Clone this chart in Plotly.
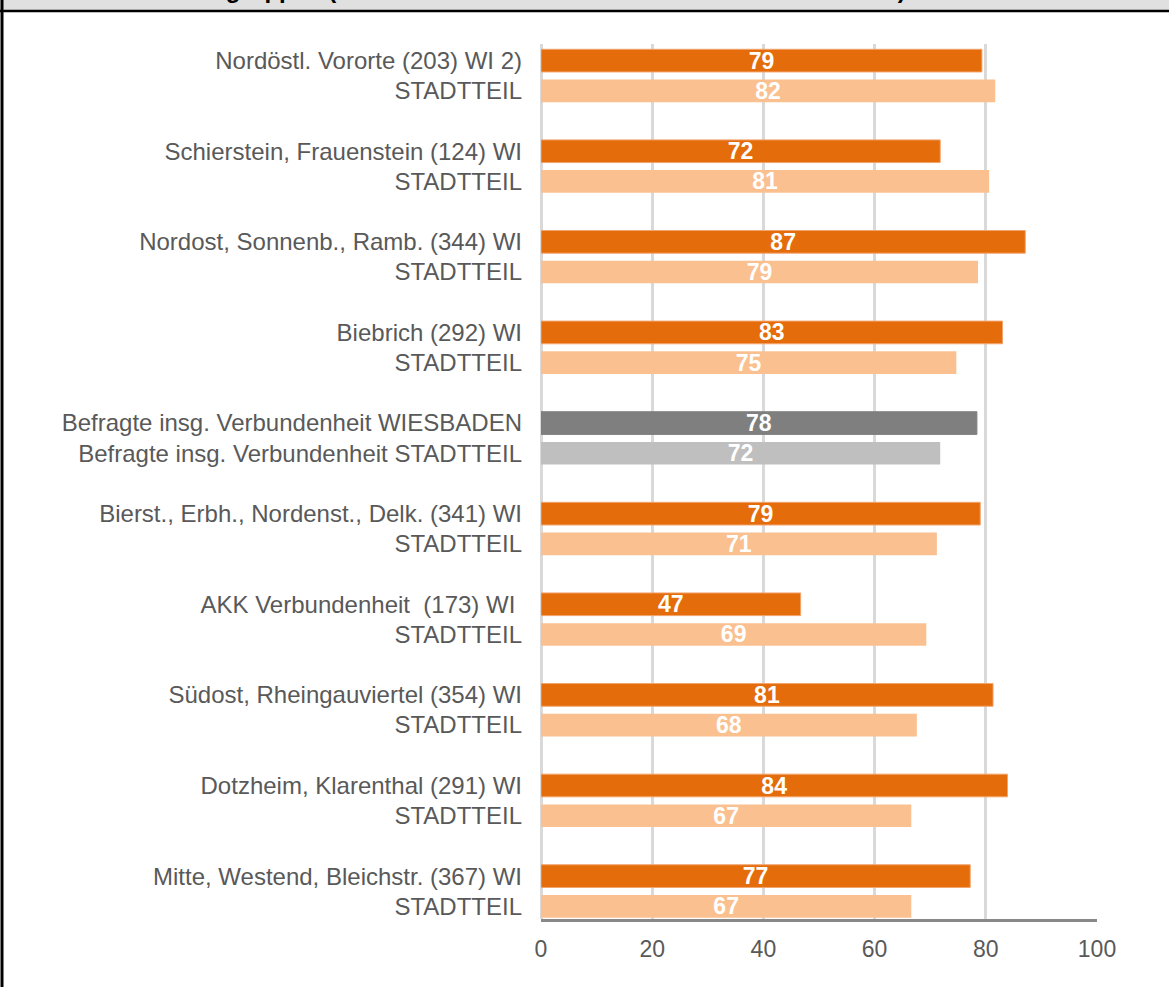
import plotly.graph_objects as go

# ---------------- data ----------------
labels_wi = [
    "Nordöstl. Vororte (203) WI 2)",
    "Schierstein, Frauenstein (124) WI",
    "Nordost, Sonnenb., Ramb. (344) WI",
    "Biebrich (292) WI",
    "Befragte insg. Verbundenheit WIESBADEN",
    "Bierst., Erbh., Nordenst., Delk. (341) WI",
    "AKK Verbundenheit\u00a0 (173) WI\u00a0",
    "Südost, Rheingauviertel (354) WI",
    "Dotzheim, Klarenthal (291) WI",
    "Mitte, Westend, Bleichstr. (367) WI",
]
labels_st = [
    "STADTTEIL",
    "STADTTEIL",
    "STADTTEIL",
    "STADTTEIL",
    "Befragte insg. Verbundenheit STADTTEIL",
    "STADTTEIL",
    "STADTTEIL",
    "STADTTEIL",
    "STADTTEIL",
    "STADTTEIL",
]
values_wi = [79.3, 71.8, 87.1, 83.0, 78.4, 79.0, 46.7, 81.3, 83.9, 77.2]
values_st = [81.7, 80.6, 78.6, 74.7, 71.8, 71.2, 69.3, 67.6, 66.6, 66.6]
x_ticks = [0, 20, 40, 60, 80, 100]
total_index = 4  # the "Befragte insgesamt" group

title_text = ("Verbundenheit nach Stadtteilgruppen "
              "(Anteil der stark und sehr stark Verbundenen in %)")

# ---------------- styles ----------------
C_WI, C_ST = "#E46C0A", "#FAC090"
C_WI_TOT, C_ST_TOT = "#7F7F7F", "#BFBFBF"
FONT = "Liberation Sans, Arial, sans-serif"
TXT = "#595959"

n = len(labels_wi)
pos_wi = [3 * i for i in range(n)]
pos_st = [3 * i + 1 for i in range(n)]
col_wi = [C_WI_TOT if i == total_index else C_WI for i in range(n)]
col_st = [C_ST_TOT if i == total_index else C_ST for i in range(n)]
line_wi = [C_WI_TOT if i == total_index else "#F2A36B" for i in range(n)]

bar_text = dict(
    texttemplate="%{x:.0f}",
    textposition="inside",
    insidetextanchor="middle",
    constraintext="none",
    textangle=0,
    textfont=dict(family=FONT, size=23, color="white", weight="bold"),
    width=0.75,
    orientation="h",
    hoverinfo="skip",
)

fig = go.Figure()
fig.add_trace(go.Bar(x=values_wi, y=pos_wi, marker=dict(color=col_wi, line=dict(color=line_wi, width=1)),
                     name="WI", **bar_text))
fig.add_trace(go.Bar(x=values_st, y=pos_st, marker=dict(color=col_st, line=dict(width=0)),
                     name="STADTTEIL", **bar_text))

tickvals, ticktext = [], []
for i in range(n):
    tickvals += [pos_wi[i], pos_st[i]]
    ticktext += [labels_wi[i], labels_st[i]]

L, R, T, B = 541, 72, 44, 68
W, H = 1169, 987
pw, ph = W - L - R, H - T - B

def px_x(p):
    return (p - L) / pw

def px_y(p):
    return 1 + (T - p) / ph

fig.update_layout(
    width=W, height=H, autosize=False,
    margin=dict(l=L, r=R, t=T, b=B, pad=0),
    paper_bgcolor="white", plot_bgcolor="white",
    barmode="overlay", showlegend=False,
    font=dict(family=FONT, color=TXT),
    xaxis=dict(
        range=[0, 100], tickvals=x_ticks, ticks="", showgrid=True,
        gridcolor="#D9D9D9", gridwidth=3,
        zeroline=True, zerolinecolor="#D9D9D9", zerolinewidth=3,
        showline=True, linecolor="#898989", linewidth=3,
        tickfont=dict(family=FONT, size=23, color=TXT),
        ticklabelstandoff=7, fixedrange=True,
    ),
    yaxis=dict(
        range=[len(pos_st) * 3 - 1.58, -0.55], tickvals=tickvals, ticktext=ticktext,
        ticks="", showgrid=False, zeroline=False, showline=False,
        tickfont=dict(family=FONT, size=24, color=TXT),
        ticklabelstandoff=18, fixedrange=True,
    ),
    shapes=[
        dict(type="rect", xref="paper", yref="paper", x0=px_x(-5), x1=px_x(W + 5),
             y0=px_y(10), y1=px_y(-20), fillcolor="#E0E0E0", line=dict(width=0), layer="above"),
        dict(type="line", xref="paper", yref="paper", x0=px_x(-5), x1=px_x(W + 5),
             y0=px_y(11), y1=px_y(11), line=dict(color="black", width=2.5), layer="above"),
        dict(type="line", xref="paper", yref="paper", x0=px_x(2), x1=px_x(2),
             y0=px_y(-20), y1=px_y(H + 20), line=dict(color="black", width=3), layer="above"),
    ],
    annotations=[
        dict(text="<b>" + title_text + "</b>", xref="paper", yref="paper",
             x=px_x(908), y=px_y(5), xanchor="right", yanchor="bottom",
             showarrow=False, font=dict(family=FONT, size=24, color="black")),
    ],
)

fig.write_html("out.html")
